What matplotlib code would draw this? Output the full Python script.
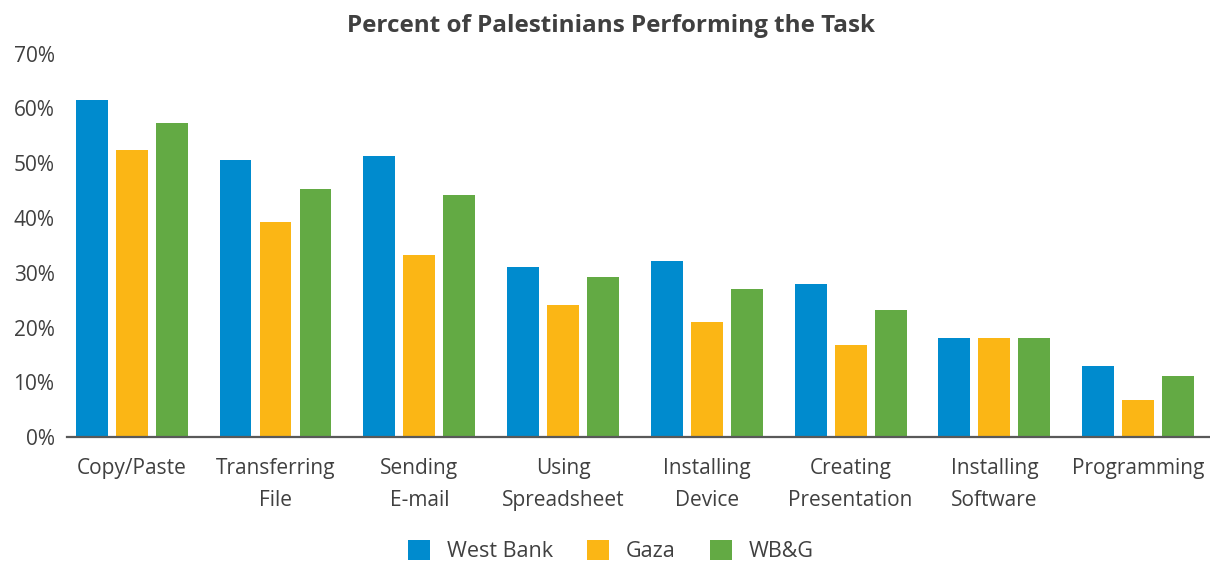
import matplotlib
matplotlib.use("Agg")
import matplotlib.pyplot as plt
import numpy as np

categories = ["Copy/Paste", "Transferring\nFile", "Sending\nE-mail", "Using\nSpreadsheet",
              "Installing\nDevice", "Creating\nPresentation", "Installing\nSoftware", "Programming"]
west_bank = [61.5, 50.6, 51.3, 31.1, 32.2, 28.0, 18.1, 13.0]
gaza = [52.4, 39.3, 33.3, 24.1, 21.0, 16.9, 18.1, 6.8]
wbg = [57.3, 45.3, 44.2, 29.2, 27.1, 23.2, 18.1, 11.2]

series_names = ["West Bank", "Gaza", "WB&G"]
colors = ["#008BCE", "#FBB615", "#63AA44"]
TEXT = "#404040"

plt.rcParams['font.family'] = ['Open Sans', 'DejaVu Sans']

fig = plt.figure(figsize=(12.1, 5.62), dpi=100)
ax = fig.add_axes([0.0554, 0.2219, 0.9446, 0.6826])

x = np.arange(len(categories))
width = 0.222
step = 0.278
for i, (vals, name, c) in enumerate(zip([west_bank, gaza, wbg], series_names, colors)):
    ax.bar(x + (i - 1) * step, vals, width, color=c, label=name, zorder=2)

ax.set_ylim(0, 70)
ax.set_xlim(-0.45, 7.5)
ax.set_yticks(range(0, 71, 10))
ax.set_yticklabels([f"{v}%" for v in range(0, 71, 10)])
ax.set_xticks(x)
ax.set_xticklabels(categories, linespacing=1.7)

ax.tick_params(axis='y', length=0, pad=9, labelsize=15, labelcolor=TEXT)
ax.tick_params(axis='x', length=0, pad=15, labelsize=15, labelcolor=TEXT)

for side in ["top", "right", "left"]:
    ax.spines[side].set_visible(False)
ax.spines["bottom"].set_color("#595959")
ax.spines["bottom"].set_linewidth(1.6)
ax.spines["bottom"].set_zorder(3)

fig.text(0.505, 0.953, "Percent of Palestinians Performing the Task",
         ha="center", va="center", fontsize=17.5, fontweight="bold", color=TEXT)

fig.legend(loc="center", bbox_to_anchor=(0.505, 0.019), ncol=3, frameon=False,
           fontsize=15.5, labelcolor=TEXT, handlelength=1.0, handleheight=1.0,
           columnspacing=1.6, handletextpad=0.8)

fig.savefig("out.png", dpi=100)
